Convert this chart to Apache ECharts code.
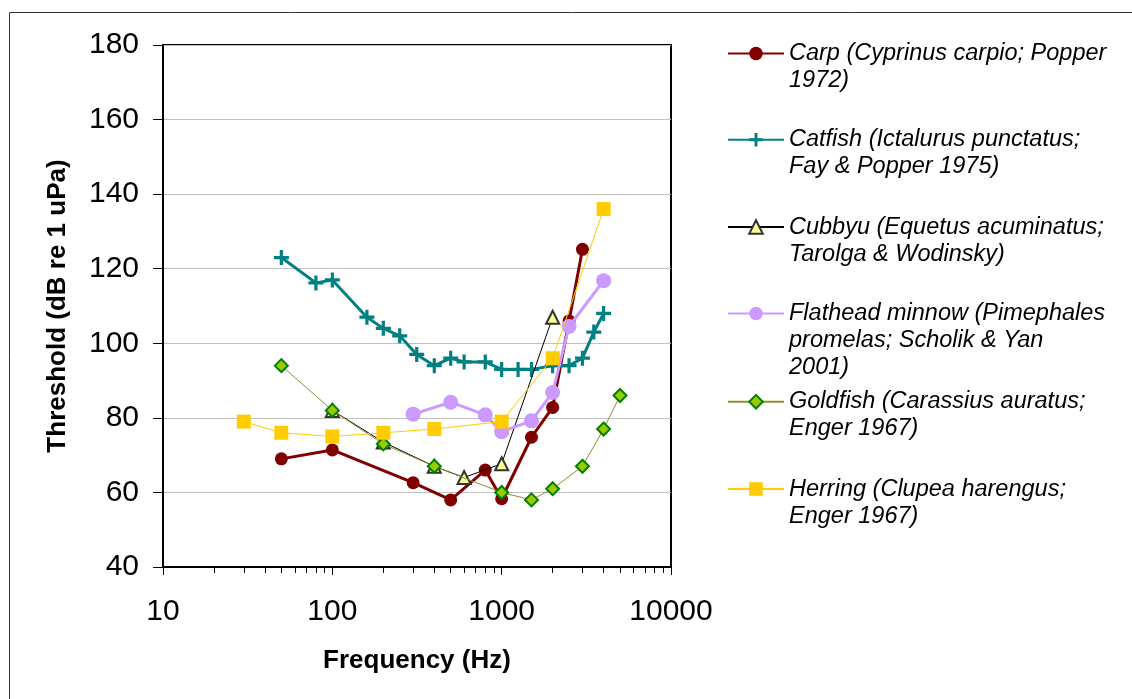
<!DOCTYPE html>
<html>
<head>
<meta charset="utf-8">
<script src="https://cdn.jsdelivr.net/npm/echarts@6/dist/echarts.min.js"></script>
<style>html,body{margin:0;padding:0;background:#fff;}#c{width:1132px;height:699px;}</style>
</head>
<body>
<div id="c"></div>
<script>
// ---- data ----
const carpX = [50, 100, 300, 500, 800, 1000, 1500, 2000, 2500, 3000];
const carpY = [69, 71.4, 62.6, 58, 66, 58.3, 74.8, 82.8, 106, 125.2];

const catfishX = [50, 80, 100, 160, 200, 250, 315, 400, 500, 600, 800, 1000, 1250, 1500, 2000, 2500, 3000, 3500, 4000];
const catfishY = [123, 116.2, 117, 107, 104, 102, 97, 94, 96, 95, 95, 93, 93, 93, 94, 94, 96, 103, 108];

const cubbyuX = [100, 200, 400, 600, 1000, 2000];
const cubbyuY = [82, 73.5, 67, 64, 67.7, 107];

const flatX = [300, 500, 800, 1000, 1500, 2000, 2500, 4000];
const flatY = [81, 84.2, 80.8, 76.3, 79.2, 86.8, 104.5, 116.8];

const goldX = [50, 100, 200, 400, 1000, 1500, 2000, 3000, 4000, 5000];
const goldY = [94, 82, 73, 67, 60, 58, 61, 67, 77, 86];

const herrX = [30, 50, 100, 200, 400, 1000, 2000, 4000];
const herrY = [79, 76, 75, 76, 77, 79, 96, 136];

const seriesNames = [
  'Carp (Cyprinus carpio; Popper 1972)',
  'Catfish (Ictalurus punctatus; Fay & Popper 1975)',
  'Cubbyu (Equetus acuminatus; Tarolga & Wodinsky)',
  'Flathead minnow (Pimephales promelas; Scholik & Yan 2001)',
  'Goldfish (Carassius auratus; Enger 1967)',
  'Herring (Clupea harengus; Enger 1967)'
];
const legendLines = [
  ['Carp (Cyprinus carpio; Popper', '1972)'],
  ['Catfish (Ictalurus punctatus;', 'Fay & Popper 1975)'],
  ['Cubbyu (Equetus acuminatus;', 'Tarolga & Wodinsky)'],
  ['Flathead minnow (Pimephales', 'promelas; Scholik & Yan', '2001)'],
  ['Goldfish (Carassius auratus;', 'Enger 1967)'],
  ['Herring (Clupea harengus;', 'Enger 1967)']
];
const xTitle = 'Frequency (Hz)';
const yTitle = 'Threshold (dB re 1 uPa)';

// ---- build ----
const zip = (xs, ys) => xs.map((x, i) => [x, ys[i]]);
const FONT = '"Liberation Sans", Arial, sans-serif';
const plusPath = 'path://M5.5,0H8.5V5.5H14V8.5H8.5V14H5.5V8.5H0V5.5H5.5Z';

const seriesStyles = [
  {color: '#800000', lineWidth: 3, symbol: 'circle', symbolSize: 13, itemStyle: {color: '#800000'}},
  {color: '#008080', lineWidth: 3, symbol: plusPath, symbolSize: 15, itemStyle: {color: '#008080'}},
  {color: '#000000', lineWidth: 1, symbol: 'triangle', symbolSize: 13, itemStyle: {color: '#FFFF99', borderColor: '#333333', borderWidth: 2}},
  {color: '#CC99FF', lineWidth: 3, symbol: 'circle', symbolSize: 15, itemStyle: {color: '#CC99FF'}},
  {color: '#8F8F2E', lineWidth: 1, symbol: 'diamond', symbolSize: 13, itemStyle: {color: '#99CC00', borderColor: '#008000', borderWidth: 2}},
  {color: '#FFCC00', lineWidth: 1, symbol: 'rect', symbolSize: 14, itemStyle: {color: '#FFCC00'}}
];
const datasets = [zip(carpX, carpY), zip(catfishX, catfishY), zip(cubbyuX, cubbyuY),
                  zip(flatX, flatY), zip(goldX, goldY), zip(herrX, herrY)];

const series = datasets.map((d, i) => {
  const s = seriesStyles[i];
  return {
    type: 'line',
    name: seriesNames[i],
    data: d,
    symbol: s.symbol,
    symbolSize: s.symbolSize,
    symbolKeepAspect: true,
    showAllSymbol: true,
    lineStyle: {color: s.color, width: s.lineWidth},
    itemStyle: Object.assign({opacity: 1}, s.itemStyle),
    emphasis: {disabled: true},
    animation: false,
    z: 2 + i
  };
});

// legend layout: first text line aligned with the icon by centring
// the block on it (empty lines prepended)
const LH = 27, IH = 17;
const iconCenters = [53.5, 139.8, 227, 313.5, 401.7, 489];
const legends = seriesNames.map((nm, i) => {
  const n = legendLines[i].length;
  const pre = new Array(n - 1).fill(' ');
  const txt = pre.concat(legendLines[i]).join('\n');
  return {
    data: [nm],
    orient: 'vertical',
    left: 727,
    top: iconCenters[i] - (2 * n - 1) * LH / 2,
    padding: 0,
    itemWidth: 56,
    itemHeight: IH,
    itemGap: 0,
    selectedMode: false,
    formatter: () => txt,
    textStyle: {
      fontFamily: FONT, fontStyle: 'italic', fontSize: 23.5, color: '#000',
      lineHeight: LH
    }
  };
});

const chart = echarts.init(document.getElementById('c'), null, {renderer: 'canvas'});
chart.setOption({
  backgroundColor: '#fff',
  animation: false,
  graphic: [{
    type: 'rect', left: 7, top: 10, z: -10, silent: true,
    shape: {x: 0, y: 0, width: 1200, height: 800},
    style: {fill: 'none', stroke: '#333', lineWidth: 1}
  }],
  grid: {left: 163, right: 461, top: 45, bottom: 132, show: true, borderColor: '#000', borderWidth: 2, backgroundColor: 'transparent'},
  legend: legends,
  xAxis: {
    type: 'log', logBase: 10, min: 10, max: 10000,
    name: xTitle, nameLocation: 'middle', nameGap: 81,
    nameTextStyle: {fontFamily: FONT, fontWeight: 'bold', fontSize: 26, color: '#000'},
    axisLine: {show: true, lineStyle: {color: '#000', width: 2}},
    axisTick: {show: true, inside: false, length: 8, lineStyle: {color: '#000', width: 1}},
    minorTick: {show: true, splitNumber: 9, length: 6, lineStyle: {color: '#000', width: 1}},
    splitLine: {show: false},
    minorSplitLine: {show: false},
    axisLabel: {margin: 30, fontFamily: FONT, fontSize: 30, color: '#000', formatter: v => String(Math.round(v))}
  },
  yAxis: {
    type: 'value', min: 40, max: 180, interval: 20,
    name: yTitle, nameLocation: 'middle', nameGap: 92,
    nameTextStyle: {fontFamily: FONT, fontWeight: 'bold', fontSize: 26, color: '#000'},
    axisLine: {show: true, lineStyle: {color: '#000', width: 2}},
    axisTick: {show: true, inside: false, length: 10, lineStyle: {color: '#000', width: 1}},
    splitLine: {show: true, lineStyle: {color: '#C0C0C0', width: 1}},
    axisLabel: {margin: 24, fontFamily: FONT, fontSize: 30, color: '#000'}
  },
  series: series
});
</script>
</body>
</html>
